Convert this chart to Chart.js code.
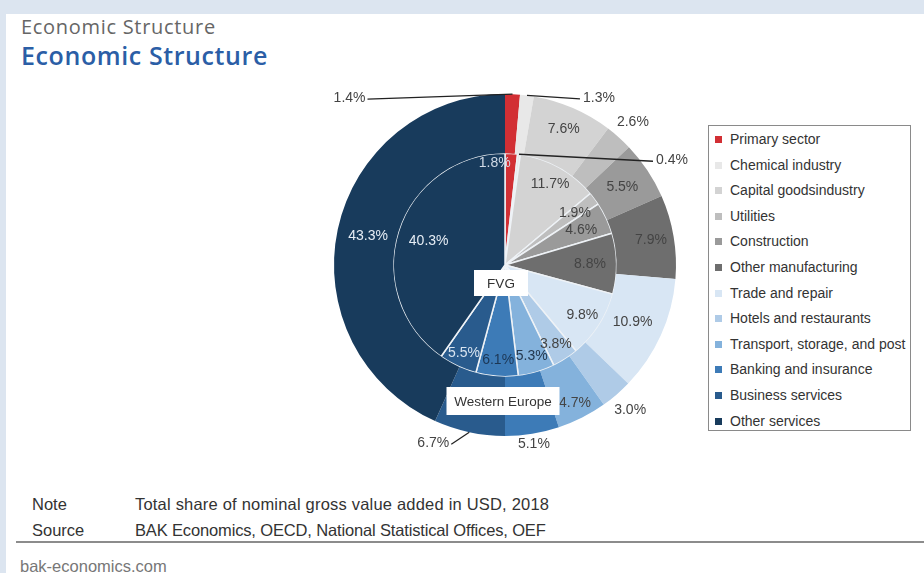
<!DOCTYPE html>
<html lang="en">
<head>
<meta charset="UTF-8">
<title>Economic Structure</title>
<script src="https://cdn.jsdelivr.net/npm/chart.js"></script>
<style>
    body { margin: 0; width: 924px; height: 573px; background: #fff; position: relative; overflow: hidden; font-family: "Liberation Sans", Arial, sans-serif; }
    #topbar { position: absolute; left: 0; top: 0; width: 924px; height: 14px; background: #dce5f0; }
    #leftbar { position: absolute; left: 0; top: 0; width: 6px; height: 573px; background: #dce5f0; }
    #t1 { position: absolute; left: 21px; top: 14px; font-family: "Open Sans", sans-serif; font-size: 20px; letter-spacing: 0.7px; line-height: 26px; color: #666; }
    #t2 { position: absolute; left: 21px; top: 39px; font-family: "Open Sans", sans-serif; font-weight: 600; font-size: 25px; letter-spacing: 0.6px; line-height: 32px; color: #2b5ea6; }
    #chart-box { position: absolute; left: 300px; top: 80px; width: 400px; height: 380px; }
    #legend { position: absolute; left: 708px; top: 125px; width: 203px; height: 306px; border: 1px solid #8a8a8a; box-sizing: border-box; }
    .item { position: absolute; left: 6px; height: 20px; line-height: 20px; font-size: 14px; color: #333; white-space: nowrap; font-family: "Liberation Sans", Arial, sans-serif; }
    .item span { display: inline-block; width: 7px; height: 7px; margin-right: 8px; vertical-align: 1px; }
    .foot { position: absolute; font-size: 16.5px; color: #333; font-family: "Liberation Sans", Arial, sans-serif; line-height: 18px; }
    #rule { position: absolute; left: 16px; top: 541px; width: 908px; height: 2px; background: #8c8c8c; }
    #site { position: absolute; left: 20px; top: 557px; font-size: 16.5px; color: #777; font-family: "Liberation Sans", Arial, sans-serif; line-height: 18px; }
</style>
</head>
<body>
<div id="topbar"></div>
<div id="leftbar"></div>
<div id="t1">Economic Structure</div>
<div id="t2">Economic Structure</div>
<div id="chart-box"><canvas id="pie"></canvas></div>
<div id="legend"></div>
<div class="foot" style="left:32px; top:495px;">Note</div>
<div class="foot" style="left:135px; top:495px; letter-spacing:0.2px;">Total share of nominal gross value added in USD, 2018</div>
<div class="foot" style="left:32px; top:521px;">Source</div>
<div class="foot" style="left:135px; top:521px; letter-spacing:-0.15px;">BAK Economics, OECD, National Statistical Offices, OEF</div>
<div id="rule"></div>
<div id="site">bak-economics.com</div>

<script>
// sectors, clockwise from the top
const sectors = ['Primary sector', 'Chemical industry', 'Capital goodsindustry', 'Utilities', 'Construction',
    'Other manufacturing', 'Trade and repair', 'Hotels and restaurants', 'Transport, storage, and post',
    'Banking and insurance', 'Business services', 'Other services'];
const westernEurope = [1.4, 1.3, 7.6, 2.6, 5.5, 7.9, 10.9, 3.0, 4.7, 5.1, 6.7, 43.3];
const fvg = [1.8, 0.4, 11.7, 1.9, 4.6, 8.8, 9.8, 3.8, 5.3, 6.1, 5.5, 40.3];

const colors = ['#d22f34', '#e8e8e8', '#d3d3d3', '#bebebe', '#9a9a9a', '#6e6e6e',
    '#d8e6f4', '#afcbe7', '#84b2dc', '#3d7bb7', '#295b8d', '#183b5c'];

// label placement: radius from centre, or a leader line (dx, dy from the slice edge)
const outerPlace = [
    { lead: [-145, 5] }, { lead: [53, 3.5] }, { r: 148 }, { r: 192 }, { r: 141 }, { r: 148 },
    { r: 140 }, { r: 192 }, { r: 155 }, { r: 181 }, { lead: [-18, 12] }, { r: 140, c: '#e6edf5' }
];
const innerPlace = [
    { r: 102, dx: -16, c: '#d0dae6' }, { lead: [134, 7] }, { r: 93 }, { r: 87 }, { r: 84 }, { r: 85 },
    { r: 92 }, { r: 94 }, { r: 95, c: '#24384f' }, { r: 95, c: '#1c3654' }, { r: 97, c: '#d8e4f0' }, { r: 80, c: '#e6edf5' }
];

// legend
const legend = document.getElementById('legend');
sectors.forEach((s, i) => {
    const d = document.createElement('div');
    d.className = 'item';
    d.style.top = (3 + i * 25.6) + 'px';
    d.innerHTML = '<span style="background:' + colors[i] + '"></span>' + s;
    legend.appendChild(d);
});

const labelPlugin = {
    id: 'sliceLabels',
    afterDatasetsDraw(chart) {
        const ctx = chart.ctx;
        ctx.save();
        ctx.font = '14px "Liberation Sans", Arial, sans-serif';
        ctx.textBaseline = 'middle';
        chart.data.datasets.forEach((ds, di) => {
            const place = di === 0 ? outerPlace : innerPlace;
            chart.getDatasetMeta(di).data.forEach((el, i) => {
                const p = el.getProps(['x', 'y', 'startAngle', 'endAngle', 'outerRadius'], true);
                const a = (p.startAngle + p.endAngle) / 2;
                const pl = place[i];
                const txt = ds.data[i].toFixed(1) + '%';
                if (pl.lead) {
                    const x0 = p.x + p.outerRadius * Math.cos(a);
                    const y0 = p.y + p.outerRadius * Math.sin(a);
                    const x1 = x0 + pl.lead[0], y1 = y0 + pl.lead[1];
                    ctx.strokeStyle = '#222';
                    ctx.lineWidth = 1.3;
                    ctx.beginPath();
                    ctx.moveTo(x0, y0);
                    ctx.lineTo(x1, y1);
                    ctx.stroke();
                    ctx.fillStyle = '#444';
                    ctx.textAlign = pl.lead[0] < 0 ? 'right' : 'left';
                    ctx.fillText(txt, x1 + (pl.lead[0] < 0 ? -2 : 3), y1 - 1);
                } else {
                    ctx.fillStyle = pl.c || '#444';
                    ctx.textAlign = 'center';
                    ctx.fillText(txt, p.x + pl.r * Math.cos(a) + (pl.dx || 0), p.y + pl.r * Math.sin(a));
                }
            });
        });

        // ring captions
        const c = chart.getDatasetMeta(0).data[0];
        const boxes = [['FVG', -4, 18, 54, 26], ['Western Europe', -2, 136, 113, 28]];
        ctx.font = '13.5px "Liberation Sans", Arial, sans-serif';
        boxes.forEach(b => {
            ctx.fillStyle = '#fff';
            ctx.fillRect(c.x + b[1] - b[3] / 2, c.y + b[2] - b[4] / 2, b[3], b[4]);
            ctx.fillStyle = '#333';
            ctx.textAlign = 'center';
            ctx.fillText(b[0], c.x + b[1], c.y + b[2] + 1);
        });
        ctx.restore();
    }
};

new Chart(document.getElementById('pie'), {
    type: 'pie',
    data: {
        labels: sectors,
        datasets: [
            { label: 'Western Europe', data: westernEurope, backgroundColor: colors, borderWidth: 0, weight: 59 },
            { label: 'FVG', data: fvg, backgroundColor: colors, borderColor: '#eef2f6', borderWidth: 1.5, weight: 111 }
        ]
    },
    options: {
        responsive: true,
        maintainAspectRatio: false,
        animation: false,
        layout: { padding: { left: 34, right: 24, top: 14, bottom: 24 } },
        plugins: {
            legend: { display: false },
            tooltip: { enabled: false }
        }
    },
    plugins: [labelPlugin]
});
</script>
</body>
</html>
